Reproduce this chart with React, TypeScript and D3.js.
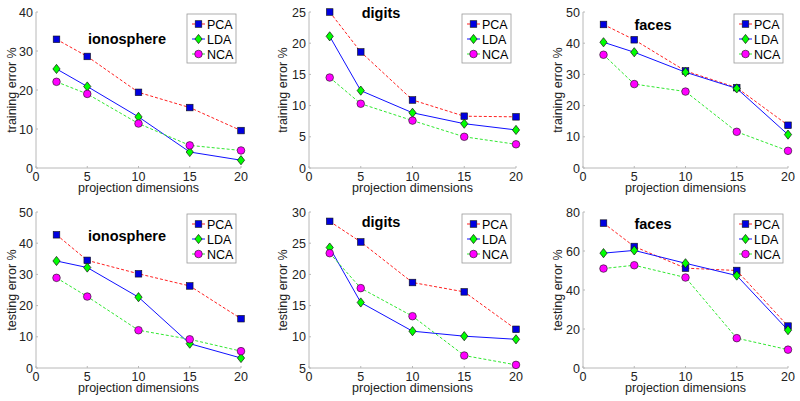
import React from "react";
import * as d3 from "d3";

const dims = [2, 5, 10, 15, 20];
const xTicks = [0, 5, 10, 15, 20];
const seriesNames = ["PCA", "LDA", "NCA"];

// training
const ionoTrainPCA = [33.0, 28.6, 19.4, 15.5, 9.6];
const ionoTrainLDA = [25.4, 20.9, 13.1, 4.1, 2.0];
const ionoTrainNCA = [22.1, 19.0, 11.4, 5.8, 4.5];
const digitsTrainPCA = [25.0, 18.6, 10.9, 8.3, 8.2];
const digitsTrainLDA = [21.1, 12.4, 8.85, 7.1, 6.1];
const digitsTrainNCA = [14.5, 10.3, 7.6, 5.0, 3.8];
const facesTrainPCA = [46.0, 41.1, 31.1, 25.75, 13.7];
const facesTrainLDA = [40.3, 37.1, 30.7, 25.5, 10.7];
const facesTrainNCA = [36.3, 26.9, 24.5, 11.6, 5.5];
// testing
const ionoTestPCA = [42.7, 34.5, 30.2, 26.3, 15.8];
const ionoTestLDA = [34.3, 32.2, 22.7, 7.8, 3.2];
const ionoTestNCA = [28.9, 22.9, 12.1, 9.2, 5.4];
const digitsTestPCA = [28.5, 25.2, 18.7, 17.2, 11.2];
const digitsTestLDA = [24.3, 15.5, 10.9, 10.1, 9.6];
const digitsTestNCA = [23.4, 17.8, 13.3, 7.0, 5.5];
const facesTestPCA = [74.3, 62.3, 51.2, 50.0, 21.5];
const facesTestLDA = [58.9, 60.3, 53.7, 47.4, 19.4];
const facesTestNCA = [51.0, 52.7, 46.4, 15.3, 9.4];

const titles = ["ionosphere", "digits", "faces", "ionosphere", "digits", "faces"];
const yLabels = ["training error %", "training error %", "training error %", "testing error %", "testing error %", "testing error %"];
const yTicks1 = [0, 10, 20, 30, 40];
const yTicks2 = [0, 5, 10, 15, 20, 25];
const yTicks3 = [0, 10, 20, 30, 40, 50];
const yTicks4 = [0, 10, 20, 30, 40, 50];
const yTicks5 = [5, 10, 15, 20, 25, 30];
const yTicks6 = [0, 20, 40, 60, 80];

const panelData = [
  { ticks: yTicks1, series: [ionoTrainPCA, ionoTrainLDA, ionoTrainNCA] },
  { ticks: yTicks2, series: [digitsTrainPCA, digitsTrainLDA, digitsTrainNCA] },
  { ticks: yTicks3, series: [facesTrainPCA, facesTrainLDA, facesTrainNCA] },
  { ticks: yTicks4, series: [ionoTestPCA, ionoTestLDA, ionoTestNCA] },
  { ticks: yTicks5, series: [digitsTestPCA, digitsTestLDA, digitsTestNCA] },
  { ticks: yTicks6, series: [facesTestPCA, facesTestLDA, facesTestNCA] },
];

// layout
const cols = [
  { x0: 36, x1: 241, ylx: 16 },
  { x0: 309, x1: 516, ylx: 287 },
  { x0: 583, x1: 788, ylx: 562 },
];
const rows = [
  { y0: 12, y1: 168 },
  { y0: 212, y1: 368 },
];
const titlePos = [
  { x: 127, y: 44 },
  { x: 381, y: 18 },
  { x: 653, y: 30 },
  { x: 127, y: 241 },
  { x: 381, y: 227 },
  { x: 653, y: 229 },
];

const lineStyles = [
  { stroke: "#ff2020", dash: "3,2" },
  { stroke: "#1010ff", dash: "" },
  { stroke: "#30e830", dash: "3,2" },
];
const markerFill = ["#0000e0", "#00ff00", "#ff00ff"];
const font = "'Liberation Sans', Arial, Helvetica, sans-serif";
const axisColor = "#b8b8b8";
const textColor = "#222";

function Marker({ kind, x, y }: { kind: number; x: number; y: number }) {
  if (kind === 0) {
    return <rect x={x - 3.3} y={y - 3.3} width={6.6} height={6.6} fill={markerFill[0]} stroke="#111" strokeWidth={0.6} />;
  }
  if (kind === 1) {
    const p = `${x},${y - 4.6} ${x + 3.6},${y} ${x},${y + 4.6} ${x - 3.6},${y}`;
    return <polygon points={p} fill={markerFill[1]} stroke="#111" strokeWidth={0.7} />;
  }
  return <circle cx={x} cy={y} r={3.8} fill={markerFill[2]} stroke="#111" strokeWidth={0.6} />;
}

function Panel({ idx }: { idx: number }) {
  const col = cols[idx % 3];
  const row = rows[Math.floor(idx / 3)];
  const pd = panelData[idx];
  const yDomain = [pd.ticks[0], pd.ticks[pd.ticks.length - 1]];
  const xs = d3.scaleLinear().domain([0, 20]).range([col.x0, col.x1]);
  const ys = d3.scaleLinear().domain(yDomain).range([row.y1, row.y0]);
  const line = d3
    .line<number>()
    .x((_, i) => xs(dims[i]))
    .y((d) => ys(d));
  const legX = col.x1 - 54;
  const legY = row.y0 + 2;
  return (
    <g>
      {/* axes */}
      <line x1={col.x0} x2={col.x1} y1={row.y1} y2={row.y1} stroke={axisColor} strokeWidth={1} />
      <line x1={col.x0} x2={col.x0} y1={row.y0} y2={row.y1} stroke={axisColor} strokeWidth={1} />
      {xTicks.map((t) => (
        <g key={"xt" + t}>
          <line x1={xs(t)} x2={xs(t)} y1={row.y1} y2={row.y1 - 2} stroke={axisColor} />
          <text x={xs(t)} y={row.y1 + 13} textAnchor="middle" fontSize={12.5} fill={textColor} fontFamily={font}>
            {t}
          </text>
        </g>
      ))}
      {pd.ticks.map((t) => (
        <g key={"yt" + t}>
          <line x1={col.x0} x2={col.x0 + 2} y1={ys(t)} y2={ys(t)} stroke={axisColor} />
          <text x={col.x0 - 3} y={ys(t) + 4.5} textAnchor="end" fontSize={12.5} fill={textColor} fontFamily={font}>
            {t}
          </text>
        </g>
      ))}
      <text x={(col.x0 + col.x1) / 2} y={row.y1 + 24} textAnchor="middle" fontSize={12.5} fill={textColor} fontFamily={font}>
        projection dimensions
      </text>
      <text
        transform={`translate(${col.ylx},${(row.y0 + row.y1) / 2}) rotate(-90)`}
        textAnchor="middle"
        fontSize={12.5}
        fill={textColor}
        fontFamily={font}
      >
        {yLabels[idx]}
      </text>
      <text x={titlePos[idx].x} y={titlePos[idx].y} textAnchor="middle" fontSize={14.5} fontWeight="bold" fill="#000" fontFamily={font}>
        {titles[idx]}
      </text>
      {pd.series.map((s, si) => (
        <path
          key={"l" + si}
          d={line(s) || ""}
          fill="none"
          stroke={lineStyles[si].stroke}
          strokeWidth={1}
          strokeDasharray={lineStyles[si].dash}
        />
      ))}
      {pd.series.map((s, si) =>
        s.map((v, i) => <Marker key={"m" + si + "-" + i} kind={si} x={xs(dims[i])} y={ys(v)} />)
      )}
      {/* legend */}
      <rect x={legX} y={legY} width={49} height={49} fill="#fff" stroke="#999" strokeWidth={0.8} />
      {seriesNames.map((n, si) => {
        const cy = legY + 10 + si * 15;
        return (
          <g key={"lg" + si}>
            <line
              x1={legX + 5}
              x2={legX + 18}
              y1={cy}
              y2={cy}
              stroke={lineStyles[si].stroke}
              strokeWidth={1}
              strokeDasharray={lineStyles[si].dash}
            />
            <Marker kind={si} x={legX + 11.5} y={cy} />
            <text x={legX + 20} y={cy + 4.5} fontSize={12.5} fill="#000" fontFamily={font}>
              {n}
            </text>
          </g>
        );
      })}
    </g>
  );
}

export default function App() {
  return (
    <svg
      width={800}
      height={401}
      style={{ position: "absolute", left: 0, top: 0, background: "#fff" }}
    >
      <rect width={800} height={401} fill="#fff" />
      {[0, 1, 2, 3, 4, 5].map((i) => (
        <Panel key={i} idx={i} />
      ))}
    </svg>
  );
}
